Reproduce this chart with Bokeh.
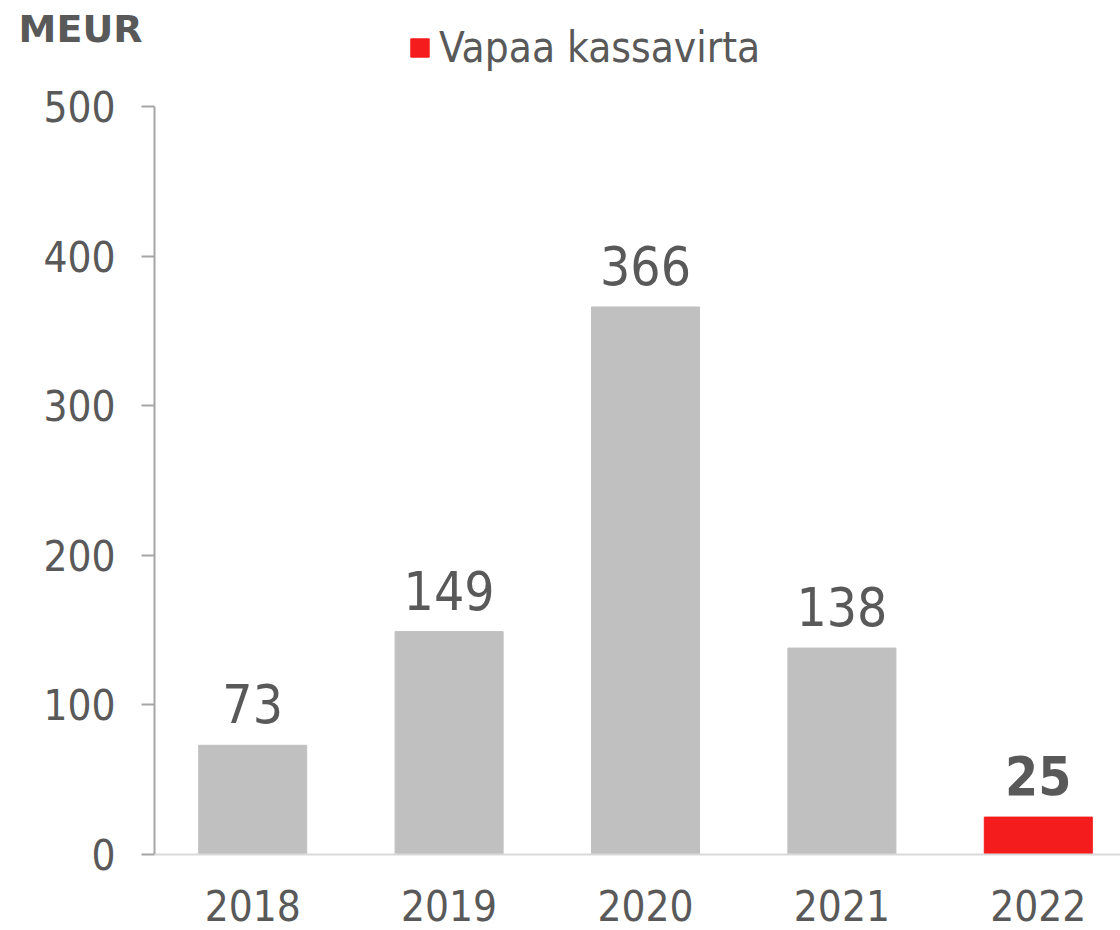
from bokeh.plotting import figure
from bokeh.models import (Range1d, FixedTicker, ColumnDataSource, LabelSet,
                          Legend, LegendItem, Span, LinearAxis)
from bokeh.core.properties import value
from bokeh.embed import file_html
from bokeh.resources import INLINE

# ---- data ----
years = ["2018", "2019", "2020", "2021", "2022"]
values = [73, 149, 366, 138, 25]
unit_label = "MEUR"
series_name = "Vapaa kassavirta"
y_ticks = [0, 100, 200, 300, 400, 500]

# ---- style / layout ----
TEXT = "#595959"
FONT = "DejaVu Sans Condensed"
GRAY = "#c0c0c0"
RED = "#f41c1c"

W, H = 1120, 930
LEFT = 154            # frame left (y axis position)
ZERO_PX = 854         # pixel row of value 0
TOP_PX = 106          # pixel row of value 500
SLOT = 196.4          # pixels per category

n = len(years)
xs = list(range(n))
colors = [GRAY] * (n - 1) + [RED]
weights = ["normal"] * (n - 1) + ["bold"]
src = ColumnDataSource(dict(x=xs, year=years, value=values,
                            label=[str(v) for v in values], color=colors, weight=weights))

ymax_tick = y_ticks[-1]
ppu = (ZERO_PX - TOP_PX) / ymax_tick
y0 = -(H - ZERO_PX) / ppu
y1 = ZERO_PX / ppu
frame_w = W - LEFT

p = figure(width=W, height=H,
           x_range=Range1d(-0.5, -0.5 + frame_w / SLOT), y_range=Range1d(y0, y1),
           output_backend="svg", toolbar_location=None, x_axis_location=None,
           min_border_left=LEFT, min_border_right=0, min_border_top=0, min_border_bottom=0)
p.outline_line_color = None
p.grid.visible = False
p.background_fill_color = "white"
p.border_fill_color = "white"

r = p.vbar(x="x", top="value", bottom=0, width=0.55, fill_color="color", line_color="color", source=src)

# baseline (category axis line)
p.add_layout(Span(location=0, dimension="width", line_color="#d9d9d9", line_width=2))

# data labels
p.add_layout(LabelSet(x="x", y="value", text="label", source=src, y_offset=22,
                      text_font=value(FONT), text_font_size="53px", text_color=TEXT,
                      text_font_style="weight",
                      text_align="center", text_baseline="alphabetic"))
# year labels
p.add_layout(LabelSet(x="x", y=0, text="year", source=src, y_offset=-66,
                      text_font=value(FONT), text_font_size="42px", text_color=TEXT,
                      text_align="center", text_baseline="alphabetic"))

# y axis
ya = p.yaxis[0]
ya.ticker = FixedTicker(ticks=y_ticks)
ya.bounds = (0, ymax_tick)
ya.minor_tick_line_color = None
ya.major_tick_in = 0
ya.major_tick_out = 13
ya.major_tick_line_color = "#a6a6a6"
ya.major_tick_line_width = 2
ya.axis_line_color = "#a6a6a6"
ya.axis_line_width = 2
ya.major_label_text_font = FONT
ya.major_label_text_font_size = "42px"
ya.major_label_text_color = TEXT
ya.major_label_standoff = 26

# unit label "MEUR" as a single-tick axis label at the top-left
unit_pos = 552
ua = LinearAxis(ticker=FixedTicker(ticks=[unit_pos]),
                major_label_overrides={unit_pos: unit_label},
                axis_line_color=None, major_tick_line_color=None, minor_tick_line_color=None,
                major_tick_in=0, major_tick_out=0, major_label_standoff=-102,
                major_label_text_font="DejaVu Sans", major_label_text_font_style="bold",
                major_label_text_font_size="38px", major_label_text_color=TEXT)
p.add_layout(ua, "left")

legend = Legend(items=[LegendItem(label=value(series_name), renderers=[r], index=n - 1)],
                location=(254, H - 72), glyph_width=23, glyph_height=23,
                label_text_font=FONT, label_text_font_size="42px", label_text_color=TEXT,
                label_standoff=8, padding=0, margin=0, spacing=0,
                border_line_color=None, background_fill_alpha=0)
p.add_layout(legend, "center")

open("out.html", "w").write(file_html(p, INLINE))
